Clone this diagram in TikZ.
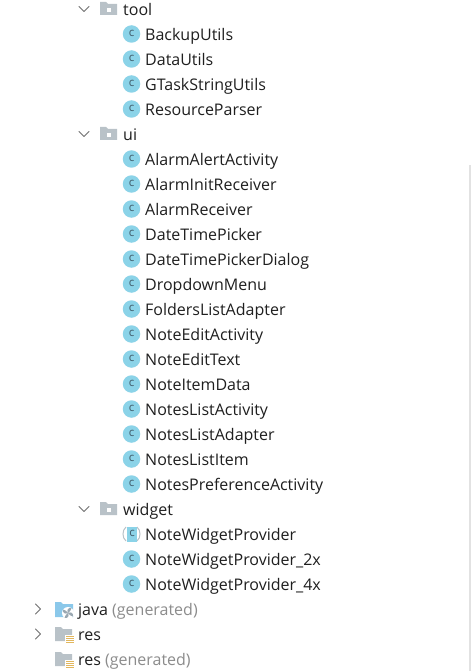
\documentclass[tikz,border=0pt]{standalone}
\usepackage{fontspec}
\setmainfont{Open Sans}
\definecolor{txt}{HTML}{1F1F1F}
\definecolor{gen}{HTML}{8C8C8C}
\definecolor{ball}{HTML}{8BD3E8}
\definecolor{cee}{HTML}{3F5A68}
\definecolor{fold}{HTML}{B9C2C8}
\definecolor{chev}{HTML}{707070}
\definecolor{bar}{HTML}{E2E2E2}
\definecolor{resb}{HTML}{E2B75E}
\definecolor{javab}{HTML}{8BC8EA}
\definecolor{fan}{HTML}{9AA8B2}
\tikzset{
 x=1pt,y=-1pt,
 lab/.style={anchor=base west,inner sep=0pt,font=\fontsize{16pt}{18pt}\selectfont,text=txt},
 ico/.style={circle,fill=ball,draw=none,minimum size=17.5pt,inner sep=0pt,text=cee,font=\fontsize{11.5pt}{11.5pt}\selectfont},
 chevron/.style={draw=chev,line width=.9pt,line cap=round,line join=round},
}
\newcommand{\classrow}[3]{%
 \node[ico] (i#1) at (131.5,#2) {\raisebox{1pt}{c}};
 \node[lab] (t#1) at (145,#2+6.3) {#3};
}
\newcommand{\pkgrow}[4]{%
 \draw[chevron] (#1-5,#2-2.5) -- (#1,#2+2.5) -- (#1+5,#2-2.5);
 \fill[fold] (#1+16,#2-7) -- (#1+22,#2-7) -- (#1+24,#2-5) -- (#1+33,#2-5) -- (#1+33,#2+6) -- (#1+16,#2+6) -- cycle;
 \fill[white] (#1+23,#2-1) rectangle ++(4,4);
 \node[lab] (p#3) at (#1+39,#2+6.3) {#4};
}
\newcommand{\resfolder}[1]{%
 \fill[fold] (55,#1-7) -- (61,#1-7) -- (63,#1-5) -- (72,#1-5) -- (72,#1+7) -- (55,#1+7) -- cycle;
 \fill[white] (65,#1+1) rectangle (75,#1+10);
 \foreach \d in {1.5,3.5,5.5,7.5} {\fill[resb] (66,#1+\d) rectangle (74,#1+\d+1.2);}
}
\begin{document}
\begin{tikzpicture}
\useasboundingbox (0,0) rectangle (471,671);
\fill[white] (0,0) rectangle (471,671);
\fill[bar] (468.5,165) rectangle (471,671);
\pkgrow{84}{9}{tool}{tool}
\classrow{a}{34}{BackupUtils}
\classrow{b}{59}{DataUtils}
\classrow{c}{84}{GTaskStringUtils}
\classrow{d}{109}{ResourceParser}
\pkgrow{84}{134}{ui}{ui}
\classrow{e}{159}{AlarmAlertActivity}
\classrow{f}{184}{AlarmInitReceiver}
\classrow{g}{209}{AlarmReceiver}
\classrow{h}{234}{DateTimePicker}
\classrow{i}{259}{DateTimePickerDialog}
\classrow{j}{284}{DropdownMenu}
\classrow{k}{309}{FoldersListAdapter}
\classrow{l}{334}{NoteEditActivity}
\classrow{m}{359}{NoteEditText}
\classrow{n}{384}{NoteItemData}
\classrow{o}{409}{NotesListActivity}
\classrow{p}{434}{NotesListAdapter}
\classrow{q}{459}{NotesListItem}
\classrow{r}{484}{NotesPreferenceActivity}
\pkgrow{84}{509}{widget}{widget}
% partially shaded class icon
\draw[fold,line width=1pt] (126,527) .. controls (122,530) and (122,538) .. (126,541);
\draw[fold,line width=1pt] (137,527) .. controls (141,530) and (141,538) .. (137,541);
\fill[ball] (127,526.5) rectangle (137,541.5);
\node[text=cee,font=\fontsize{11.5pt}{11.5pt}\selectfont,inner sep=0pt] (is) at (132,534) {\raisebox{1pt}{c}};
\node[lab] (ts) at (145,540.3) {NoteWidgetProvider};
\classrow{u}{559}{NoteWidgetProvider\_2x}
\classrow{v}{584}{NoteWidgetProvider\_4x}
% java
\draw[chevron] (35.5,604) -- (40.5,609) -- (35.5,614);
\fill[javab] (55,602) -- (61,602) -- (63,604) -- (73,604) -- (73,617) -- (55,617) -- cycle;
\fill[white] (68,613) circle[radius=6];
\foreach \a in {0,90,180,270} {\fill[fan,rotate around={\a:(68,613)}] (68,613) .. controls (66.5,610) and (68,607.5) .. (71.5,608) .. controls (71,610) and (70,612) .. (68,613);}
\node[lab] (java) at (78,615.3) {java \textcolor{gen}{(generated)}};
% res
\draw[chevron] (35.5,629) -- (40.5,634) -- (35.5,639);
\resfolder{634}
\node[lab] (res) at (78,640.3) {res};
\resfolder{659}
\node[lab] (resg) at (78,665.3) {res \textcolor{gen}{(generated)}};
\end{tikzpicture}
\end{document}
